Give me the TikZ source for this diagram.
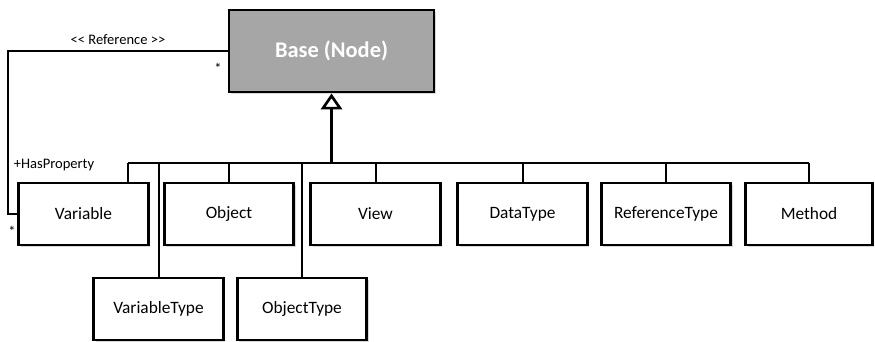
\documentclass[tikz,border=0pt]{standalone}
\usepackage{fontspec}
\setmainfont{Carlito}
\usetikzlibrary{arrows.meta,shadows}

\begin{document}
\begin{tikzpicture}[
  x=0.75pt, y=-0.75pt,
  every node/.style={font=\fontsize{13}{15}\selectfont},
  cls/.style={draw, line width=2.2pt, fill=white, minimum width=97pt,
    minimum height=46.5pt, inner sep=0pt,
    drop shadow={opacity=0.3, shadow xshift=1.5pt, shadow yshift=-1.5pt}},
  base/.style={cls, fill=gray!70, text=white, minimum width=153.75pt,
    minimum height=61.5pt, font=\fontsize{16.8}{18}\selectfont\bfseries},
  conn/.style={line width=1.5pt},
  lbl/.style={font=\fontsize{10.9}{12}\selectfont, inner sep=1pt},
]
\useasboundingbox (0,0) rectangle (875,342);

% Top: Base (Node)
\node (base) [base] at (331.5,51) {Base (Node)};

% Row 1: subclasses
\node (variable) [cls] at (83.5,214) {Variable};
\node (object) [cls] at (229,214) {Object};
\node (view) [cls] at (375.5,214) {View};
\node (datatype) [cls] at (522.5,214) {DataType};
\node (referencetype) [cls] at (666,214) {ReferenceType};
\node (method) [cls, minimum width=95pt] at (809,214) {Method};

% Row 2: type classes
\node (variabletype) [cls] at (158.5,309) {VariableType};
\node (objecttype) [cls] at (302,309) {ObjectType};

% Generalisation bus
\coordinate (bus) at (331.5,163);
\coordinate (busl) at (128,163);
\draw[line width=2.2pt, -{Triangle[open, length=12pt, width=16pt, line width=2pt]}]
  (bus) -- (base.south);
\draw[conn] (busl) -- (method.north |- bus);
\draw[conn] (busl) -- (busl |- variable.north);
\foreach \n in {object, view, datatype, referencetype, method, variabletype, objecttype}
  \draw[conn] (\n.north |- bus) -- (\n.north);

% Reference association
\coordinate (refcorner) at (8,0);
\draw[conn] (base.west) -- (base.west -| refcorner) |- (variable.west);
\node (reflbl) [lbl] at (118,40) {<\kern0pt< Reference >\kern0pt>};
\node (basemult) [lbl] at (218,68) {*};
\node (haslbl) [lbl] at (54,165) {+HasProperty};
\node (varmult) [lbl] at (12,231) {*};

\end{tikzpicture}
\end{document}
